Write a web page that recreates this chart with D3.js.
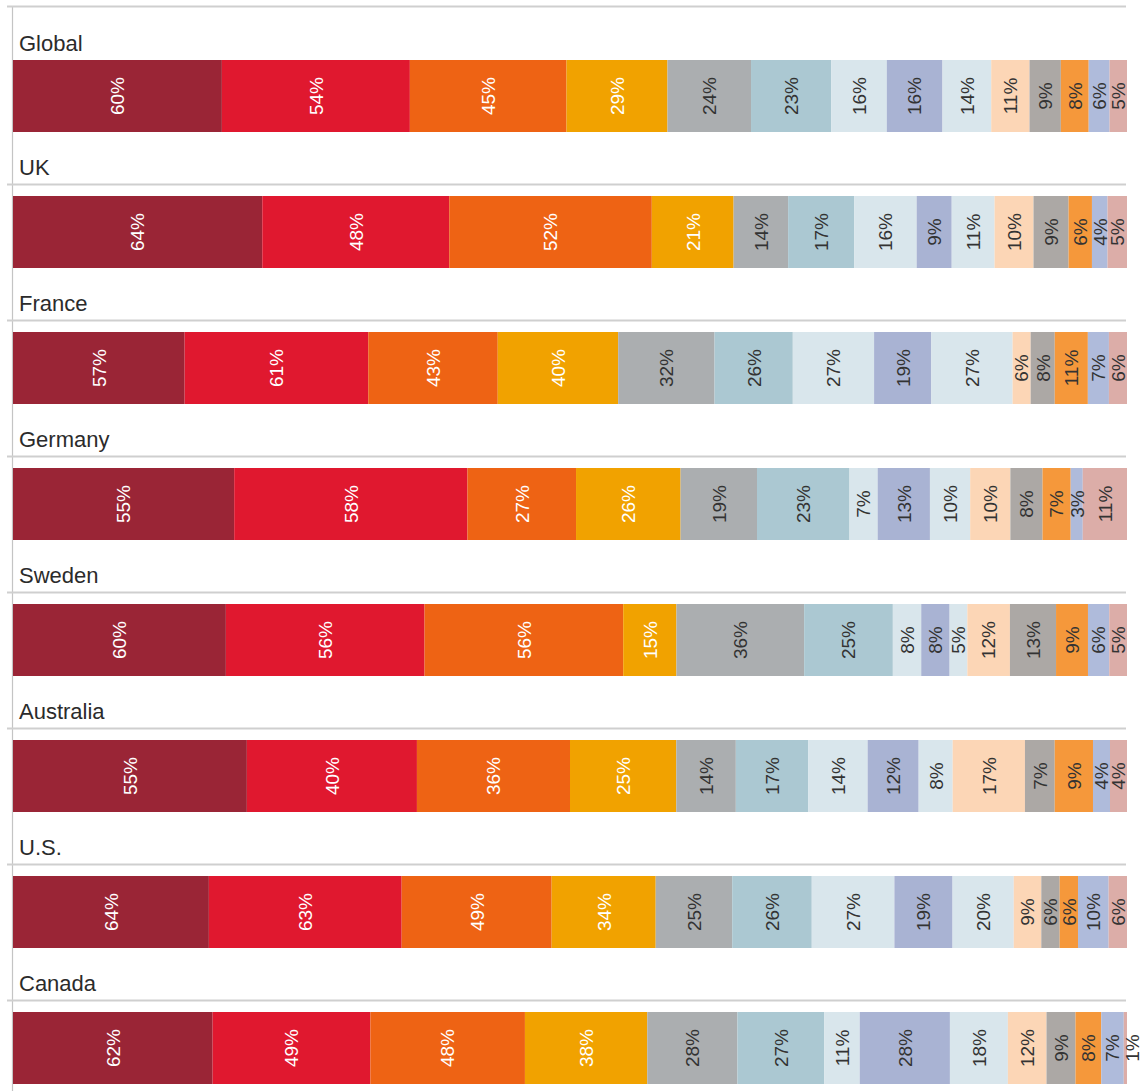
<!DOCTYPE html>
<html>
<head>
<meta charset="utf-8">
<script src="https://cdn.jsdelivr.net/npm/d3@7"></script>
<style>
  html, body { margin: 0; padding: 0; background: #fff; }
  svg { display: block; font-family: "Liberation Sans", Arial, Helvetica, sans-serif; }
</style>
</head>
<body>
<svg id="chart" width="1143" height="1091"></svg>
<script>
// Countries (one stacked bar each) and the share of each of the 14 answer categories
const countries = ["Global", "UK", "France", "Germany", "Sweden", "Australia", "U.S.", "Canada"];

const globalVals    = [60, 54, 45, 29, 24, 23, 16, 16, 14, 11, 9, 8, 6, 5];
const ukVals        = [64, 48, 52, 21, 14, 17, 16, 9, 11, 10, 9, 6, 4, 5];
const franceVals    = [57, 61, 43, 40, 32, 26, 27, 19, 27, 6, 8, 11, 7, 6];
const germanyVals   = [55, 58, 27, 26, 19, 23, 7, 13, 10, 10, 8, 7, 3, 11];
const swedenVals    = [60, 56, 56, 15, 36, 25, 8, 8, 5, 12, 13, 9, 6, 5];
const australiaVals = [55, 40, 36, 25, 14, 17, 14, 12, 8, 17, 7, 9, 4, 4];
const usVals        = [64, 63, 49, 34, 25, 26, 27, 19, 20, 9, 6, 6, 10, 6];
const canadaVals    = [62, 49, 48, 38, 28, 27, 11, 28, 18, 12, 9, 8, 7, 1];

const rowValues = [globalVals, ukVals, franceVals, germanyVals, swedenVals, australiaVals, usVals, canadaVals];

// Category palette, in stacking order
const palette = ["#9A2536", "#E0182F", "#EE6314", "#F1A200", "#ABAEB0", "#ABC8D2", "#D9E6EC",
                 "#A9B3D3", "#D9E6EC", "#FCD6B6", "#ACA8A5", "#F5983B", "#AFBBDB", "#DCADA8"];
// Categories whose labels are drawn in white
const lightText = [true, true, true, true, false, false, false, false, false, false, false, false, false, false];

const svg = d3.select("#chart");
const W = 1143, H = 1091;
const x0 = 13, x1 = 1127;
const barH = 72;

// Row bands: each band starts at the divider line; the bar sits 12px below it
const y = d3.scaleBand().domain(countries).range([48, 48 + 136 * countries.length]).paddingInner(0);

// Grid: left axis line and row dividers
svg.append("line")
  .attr("x1", 12.5).attr("x2", 12.5).attr("y1", 6.5).attr("y2", H)
  .attr("stroke", "#c4c4c4").attr("stroke-width", 1.2);

const dividers = [6.5].concat(countries.slice(1).map(c => y(c) + 0.5));
svg.selectAll("line.div").data(dividers).join("line")
  .attr("class", "div")
  .attr("x1", 7).attr("x2", 1126)
  .attr("y1", d => d).attr("y2", d => d)
  .attr("stroke", "#cfcfcf").attr("stroke-width", 1.8);

countries.forEach((c, i) => {
  const vals = rowValues[i];
  const total = d3.sum(vals);
  const xs = d3.scaleLinear().domain([0, total]).range([x0, x1]);
  const ends = Array.from(d3.cumsum(vals));
  const segs = vals.map((v, k) => ({ v, k, a: ends[k] - v, b: ends[k] }));
  const top = y(c) + 12;

  const g = svg.append("g");

  // Country name
  g.append("text")
    .attr("x", 19)
    .attr("y", i === 0 ? top - 9 : top - 21)
    .attr("font-size", 22)
    .attr("fill", "#2b2b2b")
    .text(c);

  g.selectAll("rect").data(segs).join("rect")
    .attr("x", d => xs(d.a))
    .attr("y", top)
    .attr("width", d => xs(d.b) - xs(d.a))
    .attr("height", barH)
    .attr("fill", d => palette[d.k]);

  // Rotated value labels; a sliver too thin for its label gets it just past the bar end
  g.selectAll("text.val").data(segs).join("text")
    .attr("class", "val")
    .attr("transform", d => {
      const w = xs(d.b) - xs(d.a);
      const cx = w < 6 ? xs(d.b) + 5 : (xs(d.a) + xs(d.b)) / 2;
      return `translate(${cx},${top + barH / 2}) rotate(-90)`;
    })
    .attr("text-anchor", "middle")
    .attr("dy", "0.36em")
    .attr("font-size", 19)
    .attr("fill", d => lightText[d.k] ? "#ffffff" : "#333333")
    .text(d => d.v + "%");
});
</script>
</body>
</html>
